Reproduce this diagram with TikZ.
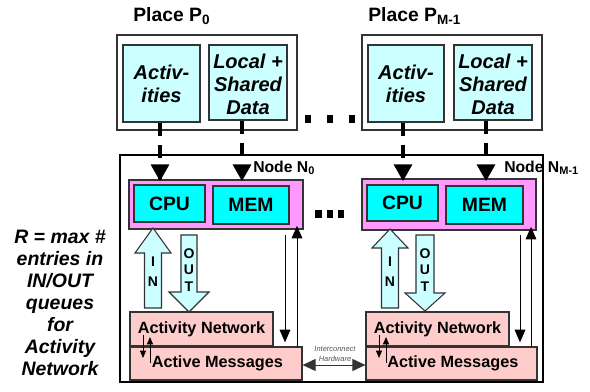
\documentclass[tikz,border=0pt]{standalone}
\usepackage{fontspec}
\setmainfont{Liberation Sans}
\usetikzlibrary{arrows.meta,fit}
\definecolor{lcyan}{HTML}{CCFFFF}
\definecolor{cyanf}{HTML}{00FFFF}
\definecolor{pinkv}{HTML}{FF99FF}
\definecolor{lpink}{HTML}{FFCCCC}
\definecolor{edgec}{HTML}{333333}
\definecolor{grayt}{HTML}{555555}
\begin{document}
\begin{tikzpicture}[x=0.75pt,y=-0.75pt,
  placebox/.style={draw=edgec, line width=1.2pt, fill=white, inner sep=0pt},
  actbox/.style={draw=edgec, line width=0.9pt, fill=lcyan, inner sep=0pt},
  acttext/.style={align=center, inner sep=0pt,
     font=\fontsize{15pt}{17.25pt}\selectfont\bfseries\itshape},
  nodebox/.style={draw=black, line width=0.8pt, inner sep=0pt},
  pinkbox/.style={draw=edgec, line width=1.1pt, fill=pinkv, inner sep=0pt},
  cpubox/.style={draw=edgec, line width=0.9pt, fill=cyanf, inner sep=0pt},
  cputext/.style={inner sep=0pt, font=\fontsize{14.5pt}{17pt}\selectfont\bfseries},
  netbox/.style={draw=edgec, line width=0.9pt, fill=lpink, inner sep=0pt},
  nettext/.style={inner sep=0pt, font=\fontsize{12.2pt}{14pt}\selectfont\bfseries},
  titletext/.style={font=\fontsize{14.5pt}{17pt}\selectfont\bfseries, inner sep=0pt, anchor=west},
  nodetext/.style={font=\fontsize{11.8pt}{14pt}\selectfont\bfseries, inner sep=0pt, anchor=west},
  dasharrow/.style={line width=2.6pt, dash pattern=on 9.75pt off 6.75pt,
     -{Triangle[width=13.5pt,length=12.75pt]}},
  thinarrow/.style={line width=0.75pt, -{Triangle[width=8pt,length=9.5pt]}},
  tinyarrow/.style={line width=0.6pt, -{Triangle[width=4.5pt,length=5.5pt]}},
  bigarrow/.style={draw=edgec, line width=0.8pt, fill=lcyan},
  arrowletters/.style={font=\fontsize{10.5pt}{14pt}\selectfont\bfseries, align=center, inner sep=0pt},
  dot/.style={fill=black, inner sep=0pt, minimum width=5pt, minimum height=5.5pt},
  sidetext/.style={font=\fontsize{14.6pt}{16.5pt}\selectfont\bfseries\itshape, align=center, inner sep=0pt},
  hwtext/.style={font=\fontsize{5.6pt}{7pt}\selectfont\itshape, text=grayt, inner sep=0pt}
]
\useasboundingbox (0,0) rectangle (590,392);

% ---------- Places ----------
\node[titletext] (t0) at (133,16) {Place P\textsubscript{0}};
\node[titletext] (t1) at (368,16) {Place P\textsubscript{M-1}};

\node[placebox, fit={(117,35) (297,130)}] (p0) {};
\node[actbox, fit={(123,45) (200,122)}] (p0act) {};
\node[actbox, fit={(209,45) (287,120)}] (p0dat) {};
\node[acttext] (p0actt) at (p0act.center) {Activ-\\ities};
\node[acttext] (p0datt) at ([yshift=-1.5pt]p0dat.center) {Local +\\Shared\\Data};

\node[placebox, fit={(362,35) (542,130)}] (p1) {};
\node[actbox, fit={(368,45) (444,122)}] (p1act) {};
\node[actbox, fit={(454,45) (532,120)}] (p1dat) {};
\node[acttext] (p1actt) at (p1act.center) {Activ-\\ities};
\node[acttext] (p1datt) at ([yshift=-1.5pt]p1dat.center) {Local +\\Shared\\Data};

\node[dot] (d1) at (308,119) {};
\node[dot] (d2) at (330,119) {};
\node[dot] (d3) at (352,119) {};

% ---------- Node frame ----------
\node[nodebox, fit={(120,155) (543,382)}] (frame) {};

\node[pinkbox, fit={(129,180) (303,229)}] (pk0) {};
\node[cpubox, fit={(134,185) (205,222)}] (cpu0) {};
\node[cpubox, fit={(213,186) (289,224)}] (mem0) {};
\node[cputext] (cpu0t) at (cpu0.center) {CPU};
\node[cputext] (mem0t) at (mem0.center) {MEM};

\node[pinkbox, fit={(362,179) (536,230)}] (pk1) {};
\node[cpubox, fit={(367,185) (438,221)}] (cpu1) {};
\node[cpubox, fit={(446,186) (523,224)}] (mem1) {};
\node[cputext] (cpu1t) at (cpu1.center) {CPU};
\node[cputext] (mem1t) at (mem1.center) {MEM};

\node[nodetext] (n0) at (253,168) {Node N\textsubscript{0}};
\node[nodetext] (n1) at (504,168) {Node N\textsubscript{M-1}};

\node[dot] (m1) at (318.5,214) {};
\node[dot] (m2) at (330,214) {};
\node[dot] (m3) at (341,214) {};

% ---------- dashed arrows ----------
\coordinate (s0a) at (160,123);
\coordinate (s0b) at (242,121);
\coordinate (s1a) at (403,123);
\coordinate (s1b) at (486,121);
\draw[dasharrow] (s0a) -- (s0a |- pk0.north) -- ++(0,2);
\draw[dasharrow] (s0b) -- (s0b |- pk0.north) -- ++(0,2);
\draw[dasharrow] (s1a) -- (s1a |- pk1.north) -- ++(0,3);
\draw[dasharrow] (s1b) -- (s1b |- pk1.north) -- ++(0,3);

% ---------- network boxes ----------
\node[netbox, fit={(130,312) (273,346)}] (an0) {};
\node[netbox, fit={(130,347) (302,380)}] (am0) {};
\node[netbox, fit={(366,312) (509,346)}] (an1) {};
\node[netbox, fit={(366,347) (537,380)}] (am1) {};
\node[nettext] (an0t) at (an0.center) {Activity Network};
\node[nettext] (am0t) at ([xshift=1pt]am0.center) {Active Messages};
\node[nettext] (an1t) at (an1.center) {Activity Network};
\node[nettext] (am1t) at ([xshift=1pt]am1.center) {Active Messages};

% ---------- IN / OUT arrows ----------
\draw[bigarrow] (144.5,308) -- (144.5,253) -- (135,253) -- (153,228) -- (171,253) -- (161.5,253) -- (161.5,308) -- cycle;
\node[arrowletters] (in0) at (153,272) {I\\[1pt]N};
\draw[bigarrow] (181,235) -- (181,292) -- (169,292) -- (189,312) -- (209,292) -- (197,292) -- (197,235) -- cycle;
\node[arrowletters] (out0) at (189,270) {O\\[-1.5pt]U\\[-1.5pt]T};

\draw[bigarrow] (381.5,308) -- (381.5,248) -- (372,248) -- (390,229) -- (408,248) -- (398.5,248) -- (398.5,308) -- cycle;
\node[arrowletters] (in1) at (390,272) {I\\[1pt]N};
\draw[bigarrow] (416,235) -- (416,293) -- (405,293) -- (425,311) -- (445,293) -- (434,293) -- (434,235) -- cycle;
\node[arrowletters] (out1) at (425,270) {O\\[-1.5pt]U\\[-1.5pt]T};

% ---------- vertical thin arrows ----------
\coordinate (v0d) at (285,235);
\coordinate (v0u) at (297,347);
\coordinate (v1d) at (520,235);
\coordinate (v1u) at (531,347);
\draw[thinarrow, shorten >=3pt] (v0d) -- (v0d |- am0.north);
\draw[thinarrow, shorten >=-3pt] (v0u) -- (v0u |- pk0.south);
\draw[thinarrow, shorten >=3pt] (v1d) -- (v1d |- am1.north);
\draw[thinarrow, shorten >=-3pt] (v1u) -- (v1u |- pk1.south);

% ---------- tiny arrows ----------
\coordinate (k0d) at (143,335);
\coordinate (k0u) at (150,363);
\coordinate (k1d) at (379,335);
\coordinate (k1u) at (386,363);
\draw[tinyarrow] (k0d) -- ++(0,23);
\draw[tinyarrow] (k0u) -- ++(0,-26);
\draw[tinyarrow] (k1d) -- ++(0,23);
\draw[tinyarrow] (k1u) -- ++(0,-26);

% ---------- interconnect ----------
\draw[line width=0.7pt, draw=edgec, {Triangle[width=9pt,length=9.75pt]}-{Triangle[width=9pt,length=9.75pt]}]
  (am0.east |- 0,365) -- (am1.west |- 0,365);
\node[hwtext] (hw1) at (335,349) {Interconnect};
\node[hwtext] (hw2) at (335,359) {Hardware};

% ---------- side text ----------
\node[sidetext] (side) at (60,303) {R = max \#\\entries in\\IN/OUT\\queues\\for\\Activity\\Network};
\end{tikzpicture}
\end{document}
